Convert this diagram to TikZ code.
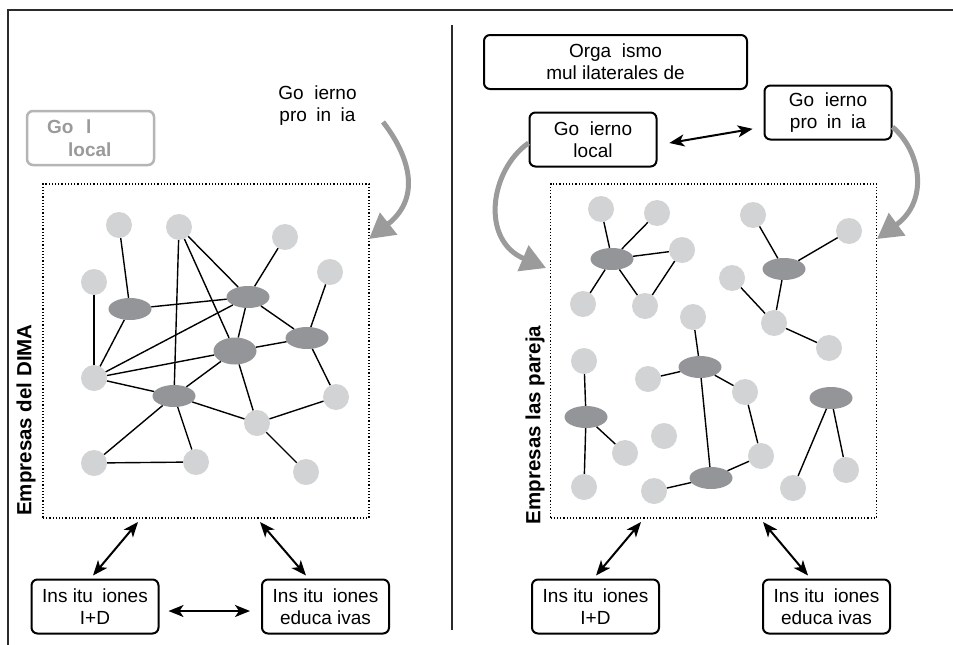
\documentclass[tikz,border=0pt]{standalone}
\usepackage{fontspec}
\setmainfont{Liberation Sans}
\usetikzlibrary{arrows.meta,shapes.geometric}
\definecolor{lightc}{HTML}{D1D3D4}
\definecolor{darke}{HTML}{939598}
\definecolor{arrowgray}{HTML}{9B9B9B}
\definecolor{grayboxc}{HTML}{B5B5B5}
\definecolor{graytextc}{HTML}{9A9A9A}
\definecolor{framec}{HTML}{2B2B2B}
\begin{document}
\begin{tikzpicture}[x=1pt,y=-1pt,
  txt/.style={font=\fontsize{19}{22}\selectfont, align=center, inner sep=0pt},
  box/.style={txt, draw=black, line width=2pt, rounded corners=6pt, minimum width=127pt, minimum height=54pt},
  gtxt/.style={font=\bfseries\fontsize{19}{22}\selectfont, text=graytextc, inner sep=0pt, anchor=base west},
  firm/.style={circle, fill=lightc, minimum size=26pt, inner sep=0pt},
  hub/.style={ellipse, fill=darke, minimum width=43pt, minimum height=22pt, inner sep=0pt},
  hubbig/.style={hub, minimum height=27pt},
  link/.style={line width=1.4pt, black},
  dbl/.style={line width=2pt, {Stealth[length=15pt,width=12pt,inset=4pt]}-{Stealth[length=15pt,width=12pt,inset=4pt]}},
  bigarrow/.style={line width=5pt, arrowgray, -{Triangle[length=25pt,width=27pt]}},
  region/.style={draw, dotted, line width=1.2pt, minimum width=326pt, minimum height=334pt, inner sep=0pt},
  vlabel/.style={font=\bfseries\fontsize{20.5}{23}\selectfont, rotate=90, inner sep=0pt},
]
\useasboundingbox[fill=white] (0,0) rectangle (953,645);

% frame
\coordinate (fTL) at (8,10);
\coordinate (fTR) at (953,10);
\coordinate (fBL) at (8,645);
\coordinate (dT) at (452,25);
\coordinate (dB) at (452,630);
\draw[framec, line width=1.5pt] (fBL) -- (fTL) -- (fTR);
\draw[framec, line width=1.5pt] (dT) -- (dB);

%================ LEFT PANEL =================
\node[draw=grayboxc, line width=2.5pt, rounded corners=6pt, minimum width=127pt, minimum height=54pt] (gl) at (90.5,138) {};
\node[gtxt] (glt1) at (47,133.5) {Go\hspace{12.6pt}l};
\node[gtxt] (glt2) at (68,156.7) {local};

\node[txt] (provL) at (317.5,106) {Go\phantom{b}ierno\\pro\phantom{v}in\phantom{c}ia};

\node[region] (netL) at (206,351) {};
\node[vlabel] (labL) at (26,420) {Empresas del DIMA};

\coordinate (gaL1) at (383,122);
\coordinate (gaL2) at (369,239);
\draw[bigarrow] (gaL1) .. controls (405,150) and (425,195) .. (gaL2);

% firms
\node[firm] (c1) at (119,225) {};
\node[firm] (c2) at (179,227) {};
\node[firm] (c3) at (285,237) {};
\node[firm] (c4) at (94,282) {};
\node[firm] (c5) at (330,272) {};
\node[firm] (c6) at (94,378) {};
\node[firm] (c7) at (336,397) {};
\node[firm] (c8) at (257,423) {};
\node[firm] (c9) at (94,463) {};
\node[firm] (c10) at (196,462) {};
\node[firm] (c11) at (306,472) {};
\node[hub] (e1) at (130,309) {};
\node[hub] (e2) at (248,297) {};
\node[hub] (e3) at (307,338) {};
\node[hubbig] (e4) at (235,351) {};
\node[hub] (e5) at (174,396) {};

\draw[link] (c1) -- (e1);
\draw[link] (c2) -- (e5);
\draw[link] (c2) -- (e2);
\draw[link] (c2) -- (e4);
\draw[link] (c3) -- (e2);
\draw[link] (c4) -- (c6);
\draw[link] (c5) -- (e3);
\draw[link] (e1) -- (e2);
\draw[link] (e1) -- (c6);
\draw[link] (e2) -- (e4);
\draw[link] (e2) -- (e3);
\draw[link] (c6) -- (e2);
\draw[link] (c6) -- (e4);
\draw[link] (c6) -- (e5);
\draw[link] (e4) -- (e3);
\draw[link] (e4) -- (e5);
\draw[link] (e4) -- (c8);
\draw[link] (e5) -- (c8);
\draw[link] (e3) -- (c7);
\draw[link] (c8) -- (c7);
\draw[link] (c8) -- (c11);
\draw[link] (e5) -- (c9);
\draw[link] (e5) -- (c10);
\draw[link] (c9) -- (c10);

\node[box] (idL) at (95,606.5) {Ins\phantom{t}itu\phantom{c}iones\\I+D};
\node[box] (eduL) at (325.5,606.5) {Ins\phantom{t}itu\phantom{c}iones\\educa\phantom{t}ivas};

\coordinate (aL1) at (138,522);
\coordinate (aL2) at (260,522);
\draw[dbl] (aL1) -- ([xshift=-2pt,yshift=3pt]idL.north);
\draw[dbl] (aL2) -- ([xshift=-19.5pt,yshift=3pt]eduL.north);
\draw[dbl, shorten <=9pt, shorten >=11pt] ([yshift=-4.5pt]idL.east) -- ([yshift=-4.5pt]eduL.west);

%================ RIGHT PANEL =================
\node[box, minimum width=263pt] (orgR) at (615.5,62) {Orga\phantom{n}ismo\\mul\phantom{t}ilaterales de};
\node[box] (locR) at (593,139.5) {Go\phantom{b}ierno\\local};
\node[box] (provR) at (828,112.5) {Go\phantom{b}ierno\\pro\phantom{v}in\phantom{c}ia};
\draw[dbl, shorten <=12pt, shorten >=11pt] ([yshift=-5.5pt]locR.east) -- ([yshift=-14.5pt]provR.west);

\node[region] (netR) at (713.5,351) {};
\node[vlabel] (labR) at (535,425) {Empresas las pareja};

\coordinate (gaR1) at (546,268);
\coordinate (gaR2) at (877,239);
\draw[bigarrow] ([yshift=-3.5pt]locR.west) .. controls (490,170) and (480,240) .. (gaR1);
\draw[bigarrow] ([yshift=-14.5pt]provR.east) .. controls (920,150) and (930,200) .. (gaR2);

\node[firm] (r1) at (601,209) {};
\node[firm] (r2) at (657,213) {};
\node[firm] (r3) at (682,250) {};
\node[firm] (r4) at (583,304) {};
\node[firm] (r5) at (645,306) {};
\node[firm] (r6) at (693,317) {};
\node[firm] (r7) at (753,215) {};
\node[firm] (r8) at (849,231) {};
\node[firm] (r9) at (732,278) {};
\node[firm] (r10) at (774,323) {};
\node[firm] (r11) at (829,348) {};
\node[firm] (r12) at (584,361) {};
\node[firm] (r13) at (648,379) {};
\node[firm] (r14) at (745,392) {};
\node[firm] (r15) at (664,436) {};
\node[firm] (r16) at (625,453) {};
\node[firm] (r17) at (761,456) {};
\node[firm] (r18) at (846,470) {};
\node[firm] (r19) at (584,487) {};
\node[firm] (r20) at (654,491) {};
\node[firm] (r21) at (793,488) {};
\node[hub] (f1) at (612,259) {};
\node[hub] (f2) at (784,269) {};
\node[hub] (f3) at (700,367) {};
\node[hub] (f4) at (586,417) {};
\node[hub] (f5) at (711,478) {};
\node[hub] (f6) at (831,398) {};

\draw[link] (f1) -- (r1);
\draw[link] (f1) -- (r2);
\draw[link] (f1) -- (r3);
\draw[link] (f1) -- (r4);
\draw[link] (f1) -- (r5);
\draw[link] (r3) -- (r5);
\draw[link] (f2) -- (r7);
\draw[link] (f2) -- (r8);
\draw[link] (f2) -- (r10);
\draw[link] (r9) -- (r10);
\draw[link] (r10) -- (r11);
\draw[link] (f3) -- (r6);
\draw[link] (f3) -- (r13);
\draw[link] (f3) -- (r14);
\draw[link] (f3) -- (f5);
\draw[link] (r14) -- (r17);
\draw[link] (r17) -- (f5);
\draw[link] (f5) -- (r20);
\draw[link] (r12) -- (f4);
\draw[link] (f4) -- (r16);
\draw[link] (f4) -- (r19);
\draw[link] (f6) -- (r21);
\draw[link] (f6) -- (r18);

\node[box] (idR) at (595.5,606.5) {Ins\phantom{t}itu\phantom{c}iones\\I+D};
\node[box] (eduR) at (826.5,606.5) {Ins\phantom{t}itu\phantom{c}iones\\educa\phantom{t}ivas};
\coordinate (aR1) at (641,522);
\coordinate (aR2) at (763,522);
\draw[dbl] (aR1) -- ([xshift=0.5pt,yshift=3pt]idR.north);
\draw[dbl] (aR2) -- ([xshift=-18.5pt,yshift=3pt]eduR.north);
\end{tikzpicture}
\end{document}
